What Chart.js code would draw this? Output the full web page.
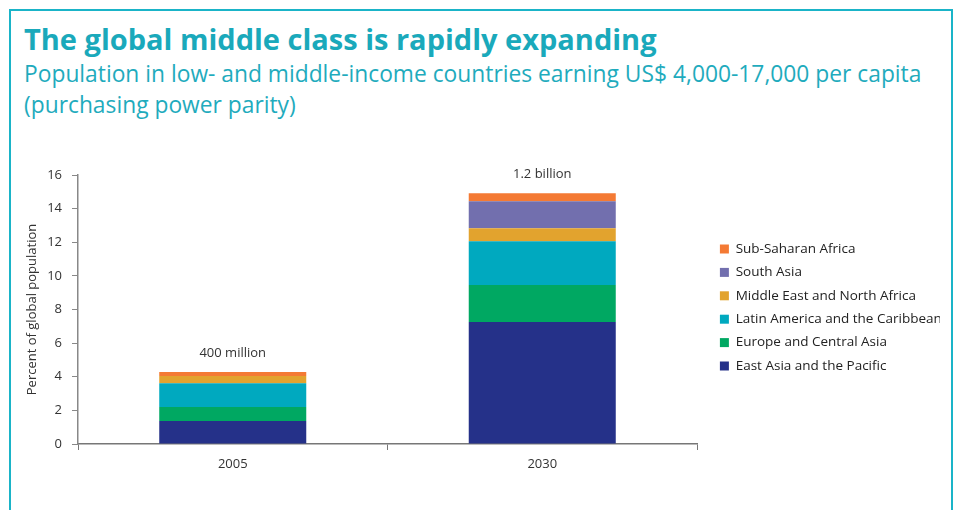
<!DOCTYPE html>
<html>
<head>
<meta charset="utf-8">
<script src="https://cdn.jsdelivr.net/npm/chart.js@4.4.1/dist/chart.umd.min.js"></script>
<style>
  body { margin: 0; background: #fff; }
  #wrap { position: relative; width: 957px; height: 510px; overflow: hidden; font-family: "Open Sans", sans-serif; }
  #frame { position: absolute; left: 9px; top: 9px; width: 944px; height: 520px; border: 2px solid #1ab4c8; box-sizing: border-box; }
  #title { position: absolute; left: 24px; top: 19px; font-size: 29px; font-weight: bold; color: #1aa9bb; white-space: nowrap; }
  #sub { position: absolute; left: 24px; top: 58px; font-size: 22.8px; line-height: 31px; color: #1fabbd; white-space: nowrap; }
  #box { position: absolute; left: 0; top: 130px; width: 957px; height: 380px; }
</style>
</head>
<body>
<div id="wrap">
  <div id="frame"></div>
  <div id="title">The global middle class is rapidly expanding</div>
  <div id="sub">Population in low- and middle-income countries earning US$ 4,000-17,000 per capita<br>(purchasing power parity)</div>
  <div id="box"><canvas id="c" width="957" height="380"></canvas></div>
</div>
<script>
// years on the x axis
var years = ["2005", "2030"];

// percent of global population, by region (bottom of stack first)
var eastAsia   = [1.37, 7.25];
var europe     = [0.83, 2.20];
var latinAm    = [1.42, 2.61];
var midEast    = [0.42, 0.77];
var southAsia  = [0.00, 1.61];
var subSahara  = [0.24, 0.47];

var totals = ["400 million", "1.2 billion"];
var yTicks = [0, 2, 4, 6, 8, 10, 12, 14, 16];

var regions = ["East Asia and the Pacific", "Europe and Central Asia", "Latin America and the Caribbean",
               "Middle East and North Africa", "South Asia", "Sub-Saharan Africa"];
var colors = ["#253189", "#00a862", "#00a9bf", "#e2a32e", "#726fae", "#f47a34"];
var series = [eastAsia, europe, latinAm, midEast, southAsia, subSahara];

var FONT = "'Open Sans', sans-serif";

var DSets = [];
for (var i = 0; i < series.length; i++) {
    DSets.push({ label: regions[i], data: series[i], backgroundColor: colors[i], borderWidth: 0,
                 barPercentage: 0.475, categoryPercentage: 1 });
}

// puts the total above each stack, and nudges the legend off the axis
var extras = {
    id: "extras",
    afterLayout: function (chart) {
        chart.legend.left += 13; chart.legend.right += 13;
        chart.legend.top -= 2; chart.legend.bottom -= 2;
    },
    afterDatasetsDraw: function (chart) {
        var ctx = chart.ctx;
        ctx.save();
        ctx.font = "13px " + FONT;
        ctx.fillStyle = "#333";
        ctx.textAlign = "center";
        ctx.textBaseline = "middle";
        for (var j = 0; j < years.length; j++) {
            var top = 9999, x = 0;
            for (var d = 0; d < DSets.length; d++) {
                var el = chart.getDatasetMeta(d).data[j];
                if (el.y < top) { top = el.y; x = el.x; }
            }
            ctx.fillText(totals[j], x, top - 19);
        }
        ctx.restore();
    }
};

new Chart(document.getElementById("c"), {
    type: "bar",
    data: { labels: years, datasets: DSets },
    plugins: [extras],
    options: {
        responsive: false,
        animation: false,
        layout: { padding: { top: 45, right: 30, left: 0, bottom: 0 } },
        plugins: {
            tooltip: { enabled: false },
            legend: {
                position: "right",
                fullSize: false,
                reverse: true,
                maxWidth: 230,
                labels: { boxWidth: 9, boxHeight: 9, padding: 9.9, color: "#222",
                          font: { family: FONT, size: 13.5 } }
            }
        },
        scales: {
            x: {
                stacked: true,
                afterFit: function (s) { s.height = 66; },
                grid: { display: true, drawOnChartArea: false, offset: true, tickLength: 6, color: "#777", tickColor: "#777" },
                border: { display: true, color: "#777", width: 1.5 },
                ticks: { color: "#333", padding: 6, font: { family: FONT, size: 13 } }
            },
            y: {
                stacked: true,
                min: 0, max: 16,
                afterFit: function (s) { s.width = 78; },
                afterBuildTicks: function (s) { s.ticks = yTicks.map(function (v) { return { value: v }; }); },
                grid: { display: true, drawOnChartArea: false, tickLength: 6, color: "#888", tickColor: "#888" },
                border: { display: true, color: "#888", width: 1.5 },
                ticks: { color: "#333", padding: 10, font: { family: FONT, size: 13 } },
                title: { display: true, text: "Percent of global population", color: "#333", padding: { top: 24, bottom: 0 },
                         font: { family: FONT, size: 13 } }
            }
        }
    }
});
</script>
</body>
</html>
